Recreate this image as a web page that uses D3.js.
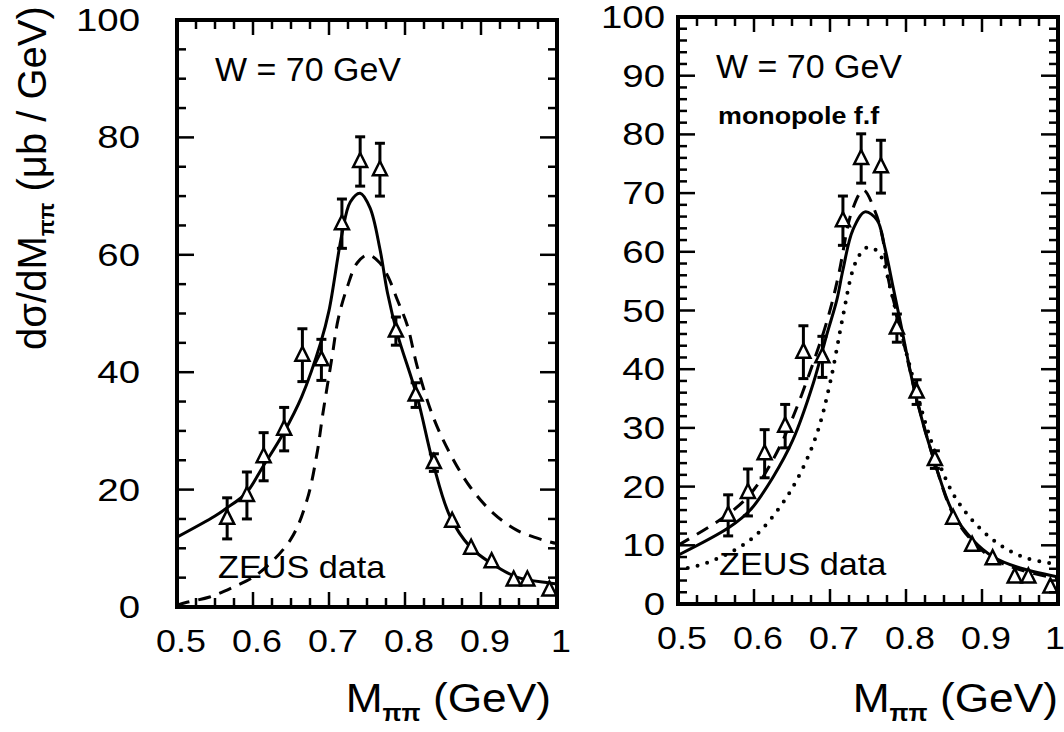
<!DOCTYPE html>
<html>
<head>
<meta charset="utf-8">
<script src="https://cdn.jsdelivr.net/npm/d3@7"></script>
<style>
body { margin: 0; background: #fff; }
text { font-family: "Liberation Sans", Arial, sans-serif; fill: #000; }
</style>
</head>
<body>
<div id="chart"></div>
<script>
// ZEUS data, W = 70 GeV (same points in both panels)
const massPts = [0.566, 0.592, 0.614, 0.641, 0.665, 0.690, 0.717, 0.741, 0.767,
                 0.788, 0.814, 0.838, 0.862, 0.887, 0.914, 0.943, 0.961, 0.990];
const xsec    = [15.1, 19.0, 25.6, 30.3, 42.9, 42.1, 65.3, 75.9, 74.5,
                 47.0, 36.1, 24.6, 14.6, 10.0, 7.7, 4.6, 4.6, 2.9];
const xsecErr = [3.5, 4.0, 4.1, 3.7, 4.5, 3.5, 4.2, 4.2, 4.5,
                 2.4, 2.1, 1.5, 1.0, 0.8, 0.7, 0.5, 0.5, 0.5];

// theory curves [M, dsigma/dM]
const leftSolid = [[0.50, 11.9], [0.55, 15.5], [0.566, 16.9], [0.591, 19.4], [0.613, 23.9],
  [0.640, 29.6], [0.664, 35.8], [0.689, 45.0], [0.700, 50.5], [0.717, 63.5], [0.728, 69.0],
  [0.741, 70.5], [0.754, 68.0], [0.767, 61.0], [0.777, 53.5], [0.790, 46.5], [0.816, 35.8],
  [0.837, 24.5], [0.859, 15.5], [0.886, 10.2], [0.913, 7.5], [0.947, 5.1], [0.99, 4.1], [1.0, 3.9]];
const leftDashed = [[0.50, 0.3], [0.513, 0.8], [0.543, 1.7], [0.574, 3.4], [0.605, 5.5],
  [0.649, 11.4], [0.671, 18.2], [0.684, 26.0], [0.692, 33.0], [0.704, 42.6], [0.712, 49.0],
  [0.724, 54.5], [0.737, 58.6], [0.751, 60.0], [0.767, 58.6], [0.778, 56.2], [0.790, 52.3],
  [0.803, 48.0], [0.816, 41.0], [0.837, 32.4], [0.859, 26.2], [0.886, 20.4], [0.916, 16.0],
  [0.947, 13.1], [0.982, 11.4], [1.0, 10.8]];
const rightSolid = [[0.50, 8.3], [0.568, 13.1], [0.595, 16.0], [0.625, 21.6], [0.651, 27.9],
  [0.678, 37.6], [0.696, 46.0], [0.709, 51.8], [0.717, 56.9], [0.730, 63.7], [0.746, 66.8],
  [0.762, 65.4], [0.772, 60.8], [0.783, 54.0], [0.792, 48.4], [0.814, 34.8], [0.838, 24.0],
  [0.862, 15.5], [0.888, 10.9], [0.915, 8.0], [0.946, 6.3], [1.0, 4.6]];
const rightDashed = [[0.50, 10.0], [0.568, 15.5], [0.600, 19.5], [0.638, 27.9], [0.687, 44.5],
  [0.702, 51.0], [0.712, 56.5], [0.729, 67.0], [0.744, 70.5], [0.759, 67.0], [0.769, 62.5],
  [0.777, 55.2], [0.790, 48.5], [0.814, 35.0], [0.838, 24.0], [0.862, 15.3], [0.888, 10.6],
  [0.915, 7.7], [0.946, 6.0], [1.0, 4.3]];
const rightDotted = [[0.50, 5.8], [0.538, 7.0], [0.595, 10.9], [0.634, 16.5], [0.661, 22.3],
  [0.683, 29.1], [0.700, 37.6], [0.717, 49.0], [0.730, 56.9], [0.739, 59.5], [0.750, 60.8],
  [0.763, 60.0], [0.771, 58.0], [0.779, 54.0], [0.800, 43.0], [0.836, 26.7], [0.867, 17.7],
  [0.910, 11.4], [0.954, 8.0], [1.0, 6.8]];

const xTickLabels = [0.5, 0.6, 0.7, 0.8, 0.9, 1];
const xMinorTicks = [0.5, 0.525, 0.55, 0.575, 0.6, 0.625, 0.65, 0.675, 0.7, 0.725, 0.75,
                     0.775, 0.8, 0.825, 0.85, 0.875, 0.9, 0.925, 0.95, 0.975, 1];
const leftYTicks = [0, 20, 40, 60, 80, 100];
const rightYTicks = [0, 10, 20, 30, 40, 50, 60, 70, 80, 90, 100];

const svg = d3.select('#chart').append('svg')
    .attr('width', 1064)
    .attr('height', 732);

// text with a slight horizontal stretch, like the scanned figure
function say(x, y, anchor, size, sx, fill) {
    const t = svg.append('g')
        .attr('transform', `translate(${x},${y}) scale(${sx},1)`)
        .append('text')
        .attr('text-anchor', anchor)
        .attr('font-size', size);
    fill(t);
    return t;
}

function drawPanel(p) {
    const x = d3.scaleLinear().domain([0.5, 1]).range([p.x0, p.x1]);
    const y = d3.scaleLinear().domain([0, 100]).range([p.y1, p.y0]);
    const g = svg.append('g');

    // curves
    const line = d3.line().x(d => x(d[0])).y(d => y(d[1])).curve(d3.curveCatmullRom.alpha(0.5));
    p.curves.forEach(c => {
        const path = g.append('path')
            .attr('d', line(c.data))
            .attr('fill', 'none')
            .attr('stroke', '#000')
            .attr('stroke-width', c.w);
        if (c.dash) path.attr('stroke-dasharray', c.dash);
        if (c.cap) path.attr('stroke-linecap', c.cap);
    });

    // data points with error bars
    const pts = massPts.map((m, i) => ({ m: m, v: xsec[i], e: xsecErr[i] }));
    const eb = g.append('g').attr('stroke', '#000').attr('stroke-width', 3);
    pts.forEach(d => {
        const cx = x(d.m), top = y(d.v + d.e), bot = y(d.v - d.e);
        eb.append('line').attr('x1', cx).attr('x2', cx).attr('y1', top).attr('y2', bot);
        if (d.e > 1.2) {
            eb.append('line').attr('x1', cx - 5).attr('x2', cx + 5).attr('y1', top).attr('y2', top);
            eb.append('line').attr('x1', cx - 5).attr('x2', cx + 5).attr('y1', bot).attr('y2', bot);
        }
    });
    g.selectAll('path.tri').data(pts).enter().append('path')
        .attr('class', 'tri')
        .attr('d', 'M0,-8.5L7,5.5L-7,5.5Z')
        .attr('transform', d => `translate(${x(d.m)},${y(d.v)})`)
        .attr('fill', '#fff')
        .attr('stroke', '#000')
        .attr('stroke-width', 2.5);

    // frame
    g.append('rect')
        .attr('x', p.x0).attr('y', p.y0)
        .attr('width', p.x1 - p.x0).attr('height', p.y1 - p.y0)
        .attr('fill', 'none').attr('stroke', '#000').attr('stroke-width', 4);

    // inward ticks on all four sides
    const ticks = g.append('g');
    const tick = (x1, y1, x2, y2) => ticks.append('line')
        .attr('x1', x1).attr('y1', y1).attr('x2', x2).attr('y2', y2)
        .attr('stroke', '#000').attr('stroke-width', 2.5);
    xMinorTicks.forEach(v => {
        const len = xTickLabels.includes(v) ? 15 : 9;
        tick(x(v), p.y1, x(v), p.y1 - len);
        tick(x(v), p.y0, x(v), p.y0 + len);
    });
    y.ticks(p.yMinorN).forEach(v => {
        const len = p.yTicks.includes(Math.round(v)) ? 17 : 9;
        tick(p.x0, y(v), p.x0 + len, y(v));
        tick(p.x1, y(v), p.x1 - len, y(v));
    });

    // tick labels
    xTickLabels.forEach(v => {
        const lx = (p.clipLast && v === 1) ? x(v) - 3 : x(v) + 4;
        say(lx, p.y1 + 45, 'middle', 32, 1.12, t => t.text(v));
    });
    p.yTicks.forEach(v => {
        say(p.labelX, y(v) + 11, 'end', 32, 1.2, t => t.text(v));
    });

    // axis title
    say(p.titleX, 712, 'end', 41, 1.08, t => {
        t.append('tspan').text('M');
        t.append('tspan').attr('font-size', 23).attr('font-weight', 'bold').attr('dy', 9).text('\u03c0\u03c0');
        t.append('tspan').attr('dy', -9).text(' (GeV)');
    });

    // annotations
    say(p.x0 + 38, p.y0 + 61, 'start', 33, 1.03, t => t.text('W = 70 GeV'));
    say(p.x0 + 41, p.y1 - 29, 'start', 32, 1.07, t => t.text('ZEUS data'));
    if (p.note) say(p.x0 + 40, p.y0 + 107, 'start', 24, 1.12, t => t.attr('font-weight', 'bold').text(p.note));
}

drawPanel({
    x0: 177, x1: 557, y0: 20, y1: 607,
    yTicks: leftYTicks, yMinorN: 20, labelX: 140, titleX: 551,
    curves: [
        { data: leftSolid, w: 3 },
        { data: leftDashed, w: 3, dash: '13,9' }
    ]
});

drawPanel({
    x0: 678, x1: 1058, y0: 17, y1: 604,
    yTicks: rightYTicks, yMinorN: 50, labelX: 665, titleX: 1058, clipLast: true,
    note: 'monopole f.f',
    curves: [
        { data: rightDotted, w: 4, dash: '0,10', cap: 'round' },
        { data: rightDashed, w: 3, dash: '13,9' },
        { data: rightSolid, w: 3 }
    ]
});

// y axis title
svg.append('g')
    .attr('transform', 'translate(46,178) rotate(-90)')
    .append('text')
    .attr('text-anchor', 'middle')
    .attr('font-size', 40)
    .call(t => {
        t.append('tspan').text('d\u03c3/dM');
        t.append('tspan').attr('font-size', 22).attr('font-weight', 'bold').attr('dy', 8).text('\u03c0\u03c0');
        t.append('tspan').attr('dy', -8).text(' (\u03bcb / GeV)');
    });
</script>
</body>
</html>
